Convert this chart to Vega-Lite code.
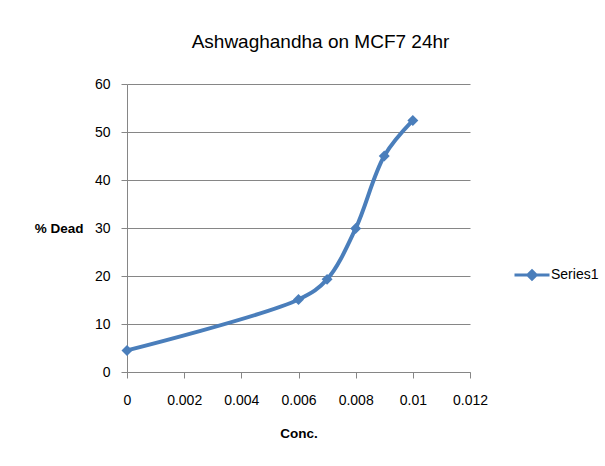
{
  "$schema": "https://vega.github.io/schema/vega-lite/v6.json",
  "width": 343,
  "height": 288,
  "autosize": {"type": "none"},
  "padding": {"left": 127, "top": 84, "right": 135, "bottom": 94},
  "background": "white",
  "title": {
    "text": "Ashwaghandha on MCF7 24hr",
    "font": "Liberation Sans",
    "fontSize": 19,
    "fontWeight": "normal",
    "color": "#000000",
    "anchor": "middle",
    "frame": "group",
    "baseline": "alphabetic",
    "offset": 10,
    "dx": 22
  },
  "data": {
    "values": [
      {"conc": 0.0, "dead": 4.5, "series": "Series1"},
      {"conc": 0.006, "dead": 15.1, "series": "Series1"},
      {"conc": 0.007, "dead": 19.3, "series": "Series1"},
      {"conc": 0.008, "dead": 29.9, "series": "Series1"},
      {"conc": 0.009, "dead": 45.0, "series": "Series1"},
      {"conc": 0.010, "dead": 52.4, "series": "Series1"}
    ]
  },
  "encoding": {
    "x": {
      "field": "conc",
      "type": "quantitative",
      "scale": {"domain": [0, 0.012], "nice": false, "zero": false},
      "axis": {
        "values": [0, 0.002, 0.004, 0.006, 0.008, 0.01, 0.012],
        "format": ".3~f",
        "title": "Conc.",
        "grid": false,
        "tickSize": 6,
        "labelPadding": 15,
        "labelFlush": false,
        "labelFontSize": 14,
        "titleFontSize": 13.5,
        "titleFontWeight": "bold",
        "titleBaseline": "alphabetic",
        "titleY": 65
      }
    },
    "y": {
      "field": "dead",
      "type": "quantitative",
      "scale": {"domain": [0, 60], "nice": false},
      "axis": {
        "values": [0, 10, 20, 30, 40, 50, 60],
        "title": "% Dead",
        "grid": true,
        "tickSize": 6,
        "labelPadding": 11,
        "labelFontSize": 14,
        "titleFontSize": 13.5,
        "titleFontWeight": "bold",
        "titleAngle": 0,
        "titleAlign": "right",
        "titleBaseline": "middle",
        "titleX": -44,
        "titleY": 144
      }
    },
    "color": {
      "field": "series",
      "type": "nominal",
      "scale": {"range": ["#4a7ebb"]},
      "legend": {
        "title": null,
        "orient": "none",
        "legendX": 386,
        "legendY": 172,
        "symbolType": "M-1,0L1,0M0,-0.24L0.24,0L0,0.24L-0.24,0Z",
        "symbolSize": 1225,
        "symbolStrokeWidth": 3,
        "symbolFillColor": "#4a7ebb",
        "symbolStrokeColor": "#4a7ebb",
        "labelFontSize": 14,
        "labelOffset": 0,
        "padding": 0
      }
    }
  },
  "layer": [
    {
      "mark": {"type": "line", "interpolate": "catmull-rom", "strokeWidth": 4}
    },
    {
      "mark": {"type": "point", "shape": "diamond", "filled": true, "size": 120, "opacity": 1}
    }
  ],
  "config": {
    "font": "Liberation Sans",
    "view": {"stroke": null},
    "axis": {
      "domainColor": "#868686",
      "tickColor": "#868686",
      "gridColor": "#868686",
      "gridOpacity": 1,
      "labelColor": "#000000",
      "titleColor": "#000000",
      "labelFont": "Liberation Sans",
      "titleFont": "Liberation Sans"
    },
    "legend": {
      "labelColor": "#000000",
      "labelFont": "Liberation Sans"
    }
  }
}
